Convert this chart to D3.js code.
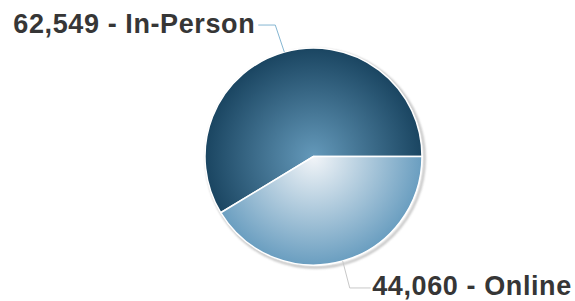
<!DOCTYPE html>
<html>
<head>
<meta charset="utf-8">
<script src="https://cdn.jsdelivr.net/npm/d3@7"></script>
<style>
  html, body { margin: 0; padding: 0; background: #fff; }
  svg { display: block; }
</style>
</head>
<body>
<svg id="chart" width="575" height="301"></svg>
<script>
const categories = ["In-Person", "Online"];
const values = [62549, 44060];
const labels = ["62,549 - In-Person", "44,060 - Online"];
const centerColors = ["#6499ba", "#f2f5f8"];
const edgeColors = ["#1a4561", "#6a9ec0"];
const connectorColors = ["#85b6d2", "#c8c8c8"];

const W = 575, H = 301;
const cx = 313.5, cy = 156.5, R = 108.5;
const svg = d3.select("#chart");
const defs = svg.append("defs");

const total = d3.sum(values);
const start = Math.PI / 2 + 2 * Math.PI * (values[1] / total);
const pie = d3.pie().sort(null).startAngle(start).endAngle(start + 2 * Math.PI);
const arcs = pie(values);
const arc = d3.arc().innerRadius(0).outerRadius(R);

// gradients (user space of the translated group: centre at 0,0)
categories.forEach((c, i) => {
  const gr = defs.append("radialGradient")
    .attr("id", "grad" + i)
    .attr("gradientUnits", "userSpaceOnUse")
    .attr("cx", 0).attr("cy", 0).attr("r", R);
  gr.append("stop").attr("offset", "0%").attr("stop-color", centerColors[i]);
  gr.append("stop").attr("offset", "100%").attr("stop-color", edgeColors[i]);
});

const f = defs.append("filter").attr("id", "shadow")
  .attr("x", "-20%").attr("y", "-20%").attr("width", "140%").attr("height", "140%");
f.append("feGaussianBlur").attr("stdDeviation", 1.2);

const g = svg.append("g").attr("transform", `translate(${cx},${cy})`);

// shadow
g.append("circle")
  .attr("cx", 2).attr("cy", 2).attr("r", R + 0.5)
  .attr("fill", "none")
  .attr("stroke", "#999")
  .attr("stroke-width", 2.5)
  .attr("opacity", 0.6)
  .attr("filter", "url(#shadow)");

g.selectAll("path.slice")
  .data(arcs)
  .join("path")
  .attr("class", "slice")
  .attr("d", arc)
  .attr("fill", (d, i) => `url(#grad${i})`)
  .attr("stroke", "#fff")
  .attr("stroke-width", 1.5)
  .attr("stroke-linejoin", "round");

// labels & connectors
arcs.forEach((d, i) => {
  const mid = (d.startAngle + d.endAngle) / 2;
  const sx = Math.sin(mid), sy = -Math.cos(mid);
  const p0 = [cx + R * sx, cy + R * sy];
  const rElbow = R + 28;
  const right = sx >= 0;
  const p1 = [cx + rElbow * sx + (right ? -0.5 : -1.5), cy + rElbow * sy];
  const p2 = [p1[0] + (right ? 21 : -17), p1[1]];
  svg.append("path")
    .attr("d", d3.line()([p0, p1, p2]))
    .attr("fill", "none")
    .attr("stroke", connectorColors[i])
    .attr("stroke-width", 1);
  svg.append("text")
    .attr("x", p2[0] + (right ? 1.5 : -3))
    .attr("y", p2[1] + 7.5)
    .attr("text-anchor", right ? "start" : "end")
    .attr("font-family", "Liberation Sans, Arial, sans-serif")
    .attr("font-weight", "bold")
    .attr("font-size", 27)
    .attr("letter-spacing", 0.6)
    .attr("fill", "#363636")
    .text(labels[i]);
});
</script>
</body>
</html>
